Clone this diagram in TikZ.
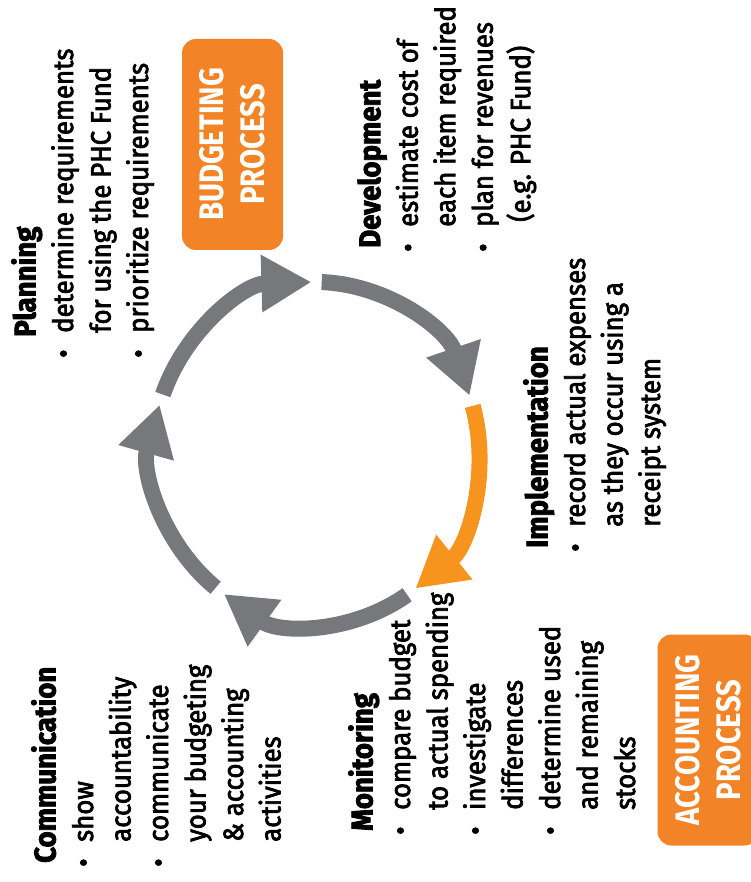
\documentclass[tikz,border=0pt]{standalone}
\usepackage{fontspec}
\setmainfont{Fira Sans}[FakeStretch=0.92,UprightFeatures={FakeBold=2.6},BoldFeatures={FakeBold=2.6}]
\newfontfamily\boxfont{Fira Sans}[FakeStretch=0.86]
\usetikzlibrary{arrows.meta}
\definecolor{boxorange}{RGB}{242,131,38}
\definecolor{arroworange}{RGB}{247,148,29}
\definecolor{arrowgray}{RGB}{119,120,123}
\newcommand{\hd}[2][4pt]{\hspace*{#1}\rule{0pt}{24pt}{\fontsize{30}{37.5}\selectfont\bfseries #2}}
\newcommand{\bul}{\makebox[25pt][l]{\textbullet}}
\newcommand{\ind}{\hspace*{25pt}}

\begin{document}
\begin{tikzpicture}[x=1pt,y=1pt,
  stage/.style={rotate=90,anchor=north west,inner sep=0pt,align=left,
    font=\fontsize{28}{37.5}\selectfont},
  procbox/.style={rotate=90,fill=boxorange,rounded corners=14pt,
    minimum width=211pt,minimum height=101pt,inner sep=0pt,align=center,
    text=white,font={\boxfont\bfseries\fontsize{34}{41}\selectfont}},
  cyc/.style={line width=16pt,-{Triangle[width=54pt,length=50pt]}}]
\useasboundingbox (0,0) rectangle (751,-882);

\node[procbox] (budget) at (232.5,-144.5) {BUDGETING\\PROCESS};
\node[procbox] (account) at (708,-740) {ACCOUNTING\\PROCESS};

% the cycle
\coordinate (hub) at (316,-453);
\foreach \g/\col in {90/arrowgray,18/arroworange,-54/arrowgray,-126/arrowgray,162/arrowgray}{
  \pgfmathsetmacro\sa{\g-2}
  \pgfmathsetmacro\ea{\g-70.4}
  \draw[cyc,draw=\col] (hub) ++(\sa:163 and 171)
    arc[start angle=\sa,end angle=\ea,x radius=163,y radius=171];
}

\node[stage] (plan) at (11,-358) {\hd[21pt]{Planning}\\
  \bul determine requirements\\
  \ind for using the PHC Fund\\
  \bul prioritize requirements};
\node[stage] (devel) at (356,-252) {\hd{Development}\\
  \bul estimate cost of\\
  \ind each item required\\
  \bul plan for revenues\\
  \ind\hspace*{5pt}(e.g. PHC Fund)};
\node[stage] (impl) at (523,-552) {\hd{Implementation}\\
  \bul record actual expenses\\
  \ind as they occur using a\\
  \ind receipt system};
\node[stage] (monit) at (348,-835) {\hd{Monitoring}\\
  \bul compare budget\\
  \ind to actual spending\\
  \bul investigate\\
  \ind differences\\
  \bul determine used\\
  \ind and remaining\\
  \ind stocks};
\node[stage] (comm) at (31,-867) {\hd{Communication}\\
  \bul show\\
  \ind accountability\\
  \bul communicate\\
  \ind your budgeting\\
  \ind \& accounting\\
  \ind activities};
\end{tikzpicture}
\end{document}
